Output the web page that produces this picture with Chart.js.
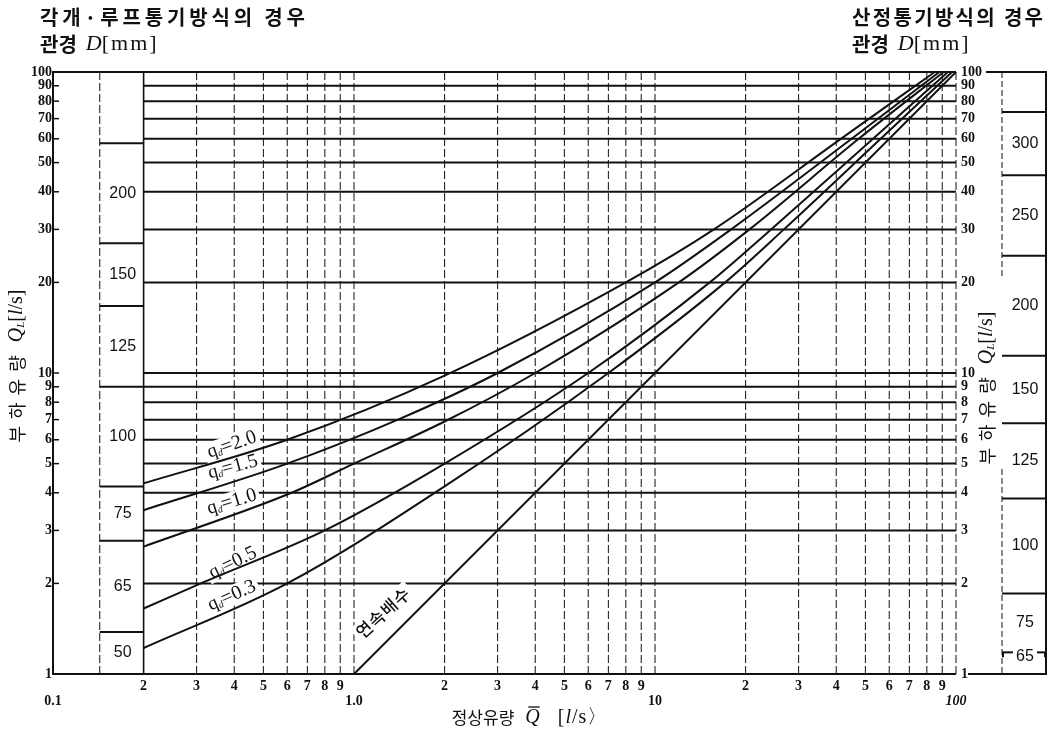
<!DOCTYPE html>
<html>
<head>
<meta charset="utf-8">
<script src="https://cdn.jsdelivr.net/npm/chart.js@4.4.1/dist/chart.umd.min.js"></script>
<style>
  html, body { margin: 0; padding: 0; background: #fff; }
  #wrap { width: 1057px; height: 730px; position: relative; }
</style>
</head>
<body>
<div id="wrap"><canvas id="c" width="1057" height="730"></canvas></div>
<script>
// 정상유량 Q [l/s] → 부하유량 QL [l/s] for each fixture-drainage factor qd
const qd20Q  = [0.2, 0.6, 2.0, 8.0, 15.7, 41, 85];
const qd20QL = [4.3, 6.0, 9.8, 20, 30, 59.5, 100];

const qd15Q  = [0.2, 0.6, 1.4, 3.0, 10, 17.9, 45, 88];
const qd15QL = [3.5, 5.0, 7.0, 10, 20, 30, 60, 100];

const qd10Q  = [0.2, 0.62, 1.0, 2.0, 4.0, 12.0, 20.6, 47.5, 91];
const qd10QL = [2.65, 4.0, 5.0, 6.9, 10, 20, 30, 60, 100];

const qd05Q  = [0.2, 0.31, 0.8, 2.0, 6.0, 15.2, 24.3, 53, 94];
const qd05QL = [1.65, 2.0, 3.0, 5.0, 10, 20, 30, 60, 100];

const qd03Q  = [0.2, 0.6, 2.0, 7.0, 17.1, 26.8, 56.2, 97];
const qd03QL = [1.22, 2.0, 4.2, 10, 20, 30, 60, 100];

// 연속배수: load flow equals steady flow
const contQ  = [1, 10, 100];
const contQL = [1, 10, 100];

// axis ticks
const xDecades      = [0.1, 1, 10];
const xMinorDigits  = [2, 3, 4, 5, 6, 7, 8, 9];
const xMajorValues  = [0.1, 1, 10, 100];
const xMajorLabels  = ['0.1', '1.0', '10', '100'];
const yTickValues   = [1, 2, 3, 4, 5, 6, 7, 8, 9, 10, 20, 30, 40, 50, 60, 70, 80, 90, 100];
const yTickLabels   = ['1', '2', '3', '4', '5', '6', '7', '8', '9', '10', '20', '30', '40', '50', '60', '70', '80', '90', '100'];

// pipe diameter bands (boundaries in QL, sizes between them)
const leftPipeBounds  = [100, 58, 27, 16.7, 9.0, 4.2, 2.77, 1.38, 1];
const leftPipeSizes   = ['', '200', '150', '125', '100', '75', '65', '50'];
const rightPipeBounds = [100, 73.6, 45.4, 24.5, 11.4, 6.81, 3.83, 1.85, 1.18, 1];
const rightPipeSizes  = ['', '300', '250', '200', '150', '125', '100', '75', '65'];

const qdValues = ['2.0', '1.5', '1.0', '0.5', '0.3'];

const SERIF = '"Liberation Serif", "DejaVu Serif", serif';
const SANS  = '"Liberation Sans", Arial, sans-serif';
const KR    = '"Noto Sans CJK KR", "Noto Sans", sans-serif';
const INK   = '#111';

const xGridValues = [];
xDecades.forEach(d => xMinorDigits.forEach(k => xGridValues.push(+(d * k).toPrecision(3))));
xGridValues.push(1, 10, 100);

function pairs(xs, ys) { return xs.map((v, i) => ({ x: v, y: ys[i] })); }

// placement of the on-curve captions (in data coordinates)
const qdNotes = [
  { q: 0.393, ql: 5.77, a: -19 },
  { q: 0.396, ql: 4.87, a: -15 },
  { q: 0.393, ql: 3.73, a: -17 },
  { q: 0.396, ql: 2.34, a: -26 },
  { q: 0.393, ql: 1.82, a: -24 }
];
const contNote = { q: 1.25, ql: 1.6, a: -42, text: '연속배수' };

function seg(ctx, x0, y0, x1, y1) { ctx.beginPath(); ctx.moveTo(x0, y0); ctx.lineTo(x1, y1); ctx.stroke(); }

function partWidth(ctx, p) {
  ctx.font = p.f;
  ctx.letterSpacing = (p.ls || 0) + 'px';
  const w = ctx.measureText(p.t).width;
  ctx.letterSpacing = '0px';
  return w + (p.gap || 0);
}
function richWidth(ctx, parts) {
  let w = 0;
  for (const p of parts) w += partWidth(ctx, p);
  return w;
}
function drawRich(ctx, parts, x, y) {
  let cx = x;
  for (const p of parts) {
    const w = partWidth(ctx, p);
    ctx.font = p.f;
    ctx.letterSpacing = (p.ls || 0) + 'px';
    ctx.fillText(p.t, cx, y + (p.dy || 0));
    ctx.letterSpacing = '0px';
    if (p.over) {
      ctx.save(); ctx.lineWidth = 1.3; ctx.strokeStyle = INK;
      seg(ctx, cx + 3, y - 11, cx + w - (p.gap || 0), y - 11);
      ctx.restore();
    }
    cx += w;
  }
}

function qdParts(v) {
  return [
    { t: 'q', f: '19px ' + SERIF },
    { t: 'd', f: 'italic 10px ' + SERIF, dy: 4 },
    { t: '=' + v, f: '20px ' + SERIF }
  ];
}
function contParts() { return [{ t: contNote.text, f: '500 17px ' + KR, ls: 1 }]; }

function noteBoxes(chart) {
  const { scales: { x, y } } = chart;
  const out = [];
  qdNotes.forEach((n, i) => {
    out.push({ cx: x.getPixelForValue(n.q), cy: y.getPixelForValue(n.ql), a: n.a, parts: qdParts(qdValues[i]) });
  });
  out.push({ cx: x.getPixelForValue(contNote.q), cy: y.getPixelForValue(contNote.ql), a: contNote.a, parts: contParts() });
  return out;
}

function spacedText(ctx, text, font, x, y, targetW) {
  ctx.font = font;
  ctx.letterSpacing = '0px';
  const w = ctx.measureText(text).width;
  const sp = Math.max(0, (targetW - w) / (text.length - 1));
  ctx.letterSpacing = sp.toFixed(2) + 'px';
  ctx.fillText(text, x, y);
  ctx.letterSpacing = '0px';
}

const paperPlugin = {
  id: 'paper',
  beforeDatasetsDraw(chart) {
    const { ctx, scales: { x, y } } = chart;
    const X = v => x.getPixelForValue(v), Y = v => y.getPixelForValue(v);
    const boxEdge = 0.143;
    ctx.save();
    ctx.strokeStyle = INK;

    // vertical rulings
    ctx.lineWidth = 1;
    ctx.setLineDash([8, 3]);
    for (const v of xGridValues) {
      if (v === 0.2) continue;
      seg(ctx, X(v), Y(1), X(v), Y(100));
    }
    seg(ctx, X(boxEdge), Y(100), X(boxEdge), Y(1));
    ctx.setLineDash([]);
    ctx.lineWidth = 1.6;
    seg(ctx, X(0.2), Y(1), X(0.2), Y(100));

    // horizontal rulings
    ctx.lineWidth = 2;
    for (const v of yTickValues) {
      const x0 = (v === 1 || v === 100) ? X(0.1) : X(0.2);
      seg(ctx, x0, Y(v), X(100), Y(v));
    }
    // left axis with ticks
    seg(ctx, X(0.1), Y(1) + 1, X(0.1), Y(100) - 1);
    ctx.lineWidth = 1.5;
    for (const v of yTickValues) seg(ctx, X(0.1), Y(v), X(0.1) + 6, Y(v));

    // left pipe-diameter band
    ctx.lineWidth = 2;
    for (const v of leftPipeBounds) {
      if (v === 1 || v === 100) continue;
      seg(ctx, X(boxEdge), Y(v), X(0.2), Y(v));
    }

    // white ground under on-curve captions
    ctx.fillStyle = '#fff';
    for (const b of noteBoxes(chart)) {
      const w = richWidth(ctx, b.parts);
      ctx.save();
      ctx.translate(b.cx, b.cy);
      ctx.rotate(b.a * Math.PI / 180);
      ctx.fillRect(-w / 2 - 3, -10, w + 6, 20);
      ctx.restore();
    }
    ctx.restore();
  },
  afterDatasetsDraw(chart) {
    const { ctx, chartArea: area, scales: { x, y } } = chart;
    const X = v => x.getPixelForValue(v), Y = v => y.getPixelForValue(v);
    const boxEdge = 0.143;
    ctx.save();
    ctx.fillStyle = INK;
    ctx.strokeStyle = INK;

    // on-curve captions
    ctx.textBaseline = 'middle';
    ctx.textAlign = 'left';
    for (const b of noteBoxes(chart)) {
      const w = richWidth(ctx, b.parts);
      ctx.save();
      ctx.translate(b.cx, b.cy);
      ctx.rotate(b.a * Math.PI / 180);
      drawRich(ctx, b.parts, -w / 2, 0);
      ctx.restore();
    }

    // y tick labels, both sides
    ctx.font = 'bold 14px ' + SERIF;
    yTickValues.forEach((v, i) => {
      ctx.textAlign = 'right';
      ctx.fillText(yTickLabels[i], X(0.1) - 1, Y(v));
      ctx.textAlign = 'left';
      ctx.fillText(yTickLabels[i], X(100) + 5, Y(v));
    });

    // x tick labels
    ctx.textAlign = 'center';
    ctx.font = 'bold 14px ' + SERIF;
    xDecades.forEach(d => xMinorDigits.forEach(k => {
      ctx.fillText(String(k), X(d * k), area.bottom + 12);
    }));
    xMajorValues.forEach((v, i) => {
      ctx.font = (v === 100 ? 'italic bold 14px ' : 'bold 14px ') + SERIF;
      ctx.fillText(xMajorLabels[i], X(v), area.bottom + 27);
    });

    // left pipe sizes
    ctx.font = '16px ' + SANS;
    ctx.textAlign = 'center';
    const lxMid = (X(boxEdge) + X(0.2)) / 2 + 1;
    for (let i = 0; i < leftPipeSizes.length; i++) {
      if (!leftPipeSizes[i]) continue;
      const mid = Math.sqrt(leftPipeBounds[i] * leftPipeBounds[i + 1]);
      ctx.fillText(leftPipeSizes[i], lxMid, Y(mid));
    }

    // right pipe-diameter band
    const rx0 = area.right + 46, rx1 = area.right + 90;
    ctx.lineWidth = 2;
    seg(ctx, area.right + 30, Y(100), rx1, Y(100));
    seg(ctx, area.right + 12, Y(1), rx1, Y(1));
    seg(ctx, rx1, Y(100) - 1, rx1, Y(1) + 1);
    ctx.lineWidth = 1;
    ctx.setLineDash([6, 3]);
    seg(ctx, rx0, Y(100), rx0, Y(20.5));
    seg(ctx, rx0, Y(4.8), rx0, Y(1));
    ctx.setLineDash([]);
    ctx.lineWidth = 2;
    ctx.font = '16px ' + SANS;
    const rxMid = (rx0 + rx1) / 2 + 1;
    for (let i = 1; i < rightPipeBounds.length - 1; i++) {
      const v = rightPipeBounds[i];
      if (i === rightPipeBounds.length - 2) {
        // last band is marked on its own boundary
        seg(ctx, rx0, Y(v), rxMid - 12, Y(v));
        seg(ctx, rxMid + 12, Y(v), rx1, Y(v));
        seg(ctx, rx0 + 1, Y(v), rx0 + 1, Y(v) + 5);
        seg(ctx, rx1 - 1, Y(v), rx1 - 1, Y(v) + 5);
        ctx.fillText(rightPipeSizes[i], rxMid, Y(v) + 4);
      } else {
        seg(ctx, rx0, Y(v), rx1, Y(v));
      }
    }
    for (let i = 1; i < rightPipeSizes.length - 1; i++) {
      const mid = Math.sqrt(rightPipeBounds[i] * rightPipeBounds[i + 1]);
      ctx.fillText(rightPipeSizes[i], rxMid, Y(mid));
    }

    // axis titles
    const qlParts = [
      { t: '부하유량', f: '18px ' + KR, ls: 7, gap: 6 },
      { t: 'Q', f: 'italic 20px ' + SERIF },
      { t: 'L', f: 'italic 11px ' + SERIF, dy: 4 },
      { t: '[', f: '20px ' + SERIF },
      { t: 'l', f: 'italic 20px ' + SERIF },
      { t: '/s]', f: '20px ' + SERIF }
    ];
    const qlW = richWidth(ctx, qlParts);
    ctx.textAlign = 'left';
    ctx.textBaseline = 'middle';
    ctx.save(); ctx.translate(17, 366); ctx.rotate(-Math.PI / 2);
    drawRich(ctx, qlParts, -qlW / 2, 0); ctx.restore();
    ctx.save(); ctx.translate(area.right + 31, 388); ctx.rotate(-Math.PI / 2);
    drawRich(ctx, qlParts, -qlW / 2, 0); ctx.restore();

    const qParts = [
      { t: '정상유량', f: '17px ' + KR, gap: 11 },
      { t: 'Q', f: 'italic 20px ' + SERIF, over: true, gap: 18 },
      { t: '[', f: '20px ' + SERIF, ls: 1 },
      { t: 'l', f: 'italic 20px ' + SERIF, ls: 1 },
      { t: '/s〉', f: '20px ' + SERIF, ls: 1 }
    ];
    const qW = richWidth(ctx, qParts);
    drawRich(ctx, qParts, 530 - qW / 2, 718);

    // headings
    ctx.fillStyle = INK;
    ctx.textBaseline = 'middle';
    spacedText(ctx, '각개·루프통기방식의 경우', 'bold 20px ' + KR, 40, 17, 265);
    spacedText(ctx, '산정통기방식의 경우', 'bold 20px ' + KR, 852, 17, 191);
    const dParts = [
      { t: '관경', f: 'bold 20px ' + KR, gap: 9 },
      { t: 'D', f: 'italic 22px ' + SERIF },
      { t: '[mm]', f: '22px ' + SERIF, ls: 2 }
    ];
    drawRich(ctx, dParts, 40, 44);
    drawRich(ctx, dParts, 852, 44);
    ctx.restore();
  }
};

const lineStyle = { borderColor: INK, borderWidth: 2, pointRadius: 0, fill: false, cubicInterpolationMode: 'monotone', clip: 6 };

new Chart(document.getElementById('c'), {
  type: 'line',
  data: {
    datasets: [
      { label: 'qd=2.0', data: pairs(qd20Q, qd20QL), ...lineStyle },
      { label: 'qd=1.5', data: pairs(qd15Q, qd15QL), ...lineStyle },
      { label: 'qd=1.0', data: pairs(qd10Q, qd10QL), ...lineStyle },
      { label: 'qd=0.5', data: pairs(qd05Q, qd05QL), ...lineStyle },
      { label: 'qd=0.3', data: pairs(qd03Q, qd03QL), ...lineStyle },
      { label: '연속배수', data: pairs(contQ, contQL), ...lineStyle, cubicInterpolationMode: 'default', tension: 0 }
    ]
  },
  options: {
    responsive: false,
    animation: false,
    layout: { padding: { left: 53, right: 101, top: 72, bottom: 56 } },
    scales: {
      x: { type: 'logarithmic', min: 0.1, max: 100, display: false },
      y: { type: 'logarithmic', min: 1, max: 100, display: false }
    },
    plugins: { legend: { display: false }, tooltip: { enabled: false } }
  },
  plugins: [paperPlugin]
});
</script>
</body>
</html>
